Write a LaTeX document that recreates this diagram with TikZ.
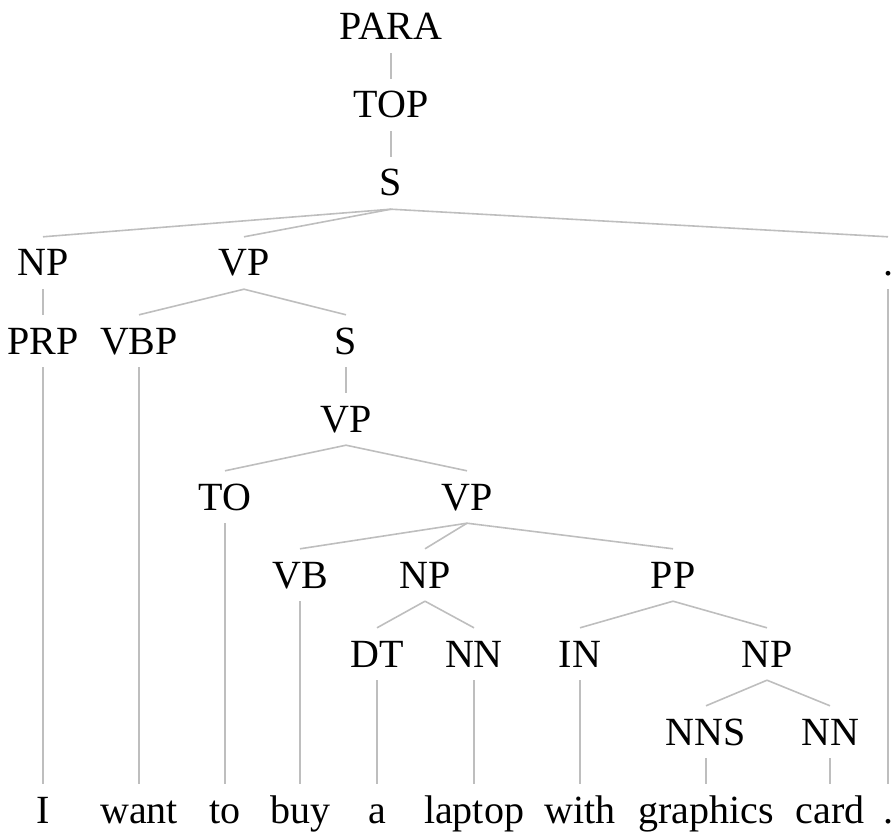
\documentclass[tikz,border=0pt]{standalone}
\usepackage{fontspec}
\setmainfont{Liberation Serif}
\definecolor{edgegray}{RGB}{190,190,190}
\tikzset{
  lbl/.style={anchor=base, inner xsep=0pt, inner ysep=13pt, text height=26pt, text depth=0pt,
    font=\fontsize{40}{48}\selectfont, text=black},
  edge/.style={draw=edgegray, line width=1.6pt}
}
\begin{document}
\begin{tikzpicture}[x=1pt,y=-1pt]
\useasboundingbox (0,0) rectangle (892,837);
% rows: baseline = 40 + 78.3 k
\node[lbl] (para) at (391,40) {PARA};
\node[lbl] (top) at (391,118) {TOP};
\node[lbl] (s) at (391,196) {S};
\node[lbl] (np1) at (43,276) {NP};
\node[lbl] (vp1) at (244,276) {VP};
\node[lbl] (dot1) at (888,276) {.};
\node[lbl] (prp) at (43,354) {PRP};
\node[lbl] (vbp) at (139,354) {VBP};
\node[lbl] (s2) at (346,354) {S};
\node[lbl] (vp2) at (346,432) {VP};
\node[lbl] (to) at (225,510) {TO};
\node[lbl] (vp3) at (467,510) {VP};
\node[lbl] (vb) at (300,588) {VB};
\node[lbl] (np2) at (425,588) {NP};
\node[lbl] (pp) at (673,588) {PP};
\node[lbl] (dt) at (377,667) {DT};
\node[lbl] (nn1) at (474,667) {NN};
\node[lbl] (in) at (580,667) {IN};
\node[lbl] (np3) at (767,667) {NP};
\node[lbl] (nns) at (706,745) {NNS};
\node[lbl] (nn2) at (830,745) {NN};
% words
\node[lbl] (w1) at (43,823) {I};
\node[lbl] (w2) at (139,823) {want};
\node[lbl] (w3) at (225,823) {to};
\node[lbl] (w4) at (300,823) {buy};
\node[lbl] (w5) at (377,823) {a};
\node[lbl] (w6) at (474,823) {laptop};
\node[lbl] (w7) at (580,823) {with};
\node[lbl] (w8) at (706,823) {graphics};
\node[lbl] (w9) at (830,823) {card};
\node[lbl] (w10) at (888,823) {.};
% edges
\draw[edge] (para.south) -- (top.north);
\draw[edge] (top.south) -- (s.north);
\draw[edge] (s.south) -- (np1.north);
\draw[edge] (s.south) -- (vp1.north);
\draw[edge] (s.south) -- (dot1.north);
\draw[edge] (np1.south) -- (prp.north);
\draw[edge] (vp1.south) -- (vbp.north);
\draw[edge] (vp1.south) -- (s2.north);
\draw[edge] (prp.south) -- (w1.north);
\draw[edge] (vbp.south) -- (w2.north);
\draw[edge] (s2.south) -- (vp2.north);
\draw[edge] (vp2.south) -- (to.north);
\draw[edge] (vp2.south) -- (vp3.north);
\draw[edge] (to.south) -- (w3.north);
\draw[edge] (vp3.south) -- (vb.north);
\draw[edge] (vp3.south) -- (np2.north);
\draw[edge] (vp3.south) -- (pp.north);
\draw[edge] (vb.south) -- (w4.north);
\draw[edge] (np2.south) -- (dt.north);
\draw[edge] (np2.south) -- (nn1.north);
\draw[edge] (pp.south) -- (in.north);
\draw[edge] (pp.south) -- (np3.north);
\draw[edge] (dt.south) -- (w5.north);
\draw[edge] (nn1.south) -- (w6.north);
\draw[edge] (in.south) -- (w7.north);
\draw[edge] (np3.south) -- (nns.north);
\draw[edge] (np3.south) -- (nn2.north);
\draw[edge] (nns.south) -- (w8.north);
\draw[edge] (nn2.south) -- (w9.north);
\draw[edge] (dot1.south) -- (w10.north);
\end{tikzpicture}
\end{document}
